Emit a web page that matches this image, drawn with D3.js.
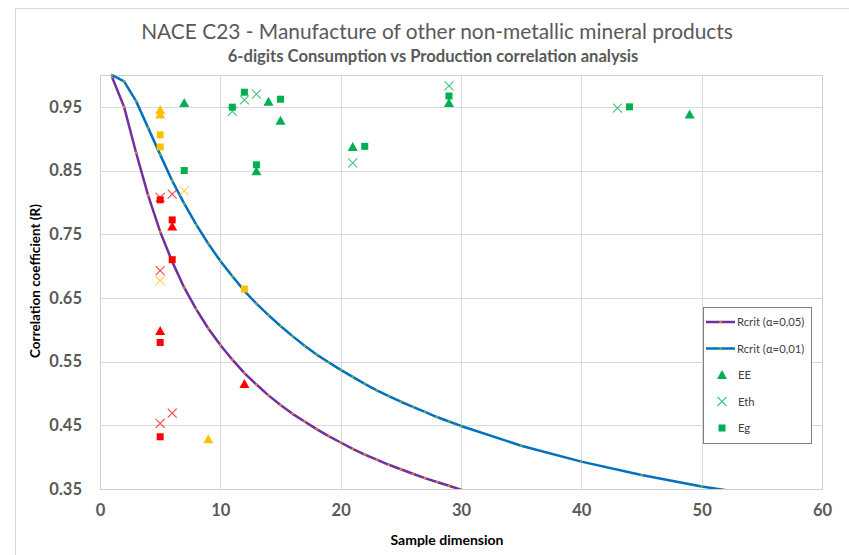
<!DOCTYPE html>
<html>
<head>
<meta charset="utf-8">
<script src="https://cdn.jsdelivr.net/npm/d3@7"></script>
<style>
  html, body { margin: 0; padding: 0; background: #fff; }
  svg { display: block; font-family: Lato, "Liberation Sans", sans-serif; }
</style>
</head>
<body>
<svg id="chart" width="849" height="555"></svg>
<script>
// Critical Pearson r values (two-tailed) by sample dimension
const critN   = [1,2,3,4,5,6,7,8,9,10,11,12,13,14,15,16,17,18,19,20,21,22,23,24,25,26,27,28,29,30,35,40,45,50,60];
const rcrit05 = [0.997,0.950,0.878,0.811,0.754,0.707,0.666,0.632,0.602,0.576,0.553,0.532,0.514,0.497,0.482,0.468,0.456,0.444,0.433,0.423,0.413,0.404,0.396,0.388,0.381,0.374,0.367,0.361,0.355,0.349,0.325,0.304,0.288,0.273,0.250];
const rcrit01 = [0.9999,0.990,0.959,0.917,0.875,0.834,0.798,0.765,0.735,0.708,0.684,0.661,0.641,0.623,0.606,0.590,0.575,0.561,0.549,0.537,0.526,0.515,0.505,0.496,0.487,0.479,0.471,0.463,0.456,0.449,0.418,0.393,0.372,0.354,0.325];

// Observed correlations; status: g = significant at 1%, y = borderline, r = not significant
const eeN      = [5, 5, 7, 6, 5, 12, 9, 14, 15, 13, 21, 29, 49];
const eeR      = [0.945, 0.938, 0.956, 0.762, 0.598, 0.515, 0.428, 0.958, 0.928, 0.849, 0.887, 0.956, 0.938];
const eeStatus = ["y","y","g","r","r","r","y","g","g","g","g","g","g"];

const ethN      = [5, 6, 7, 5, 5, 6, 5, 11, 12, 13, 21, 29, 43];
const ethR      = [0.808, 0.813, 0.818, 0.693, 0.677, 0.469, 0.453, 0.943, 0.961, 0.970, 0.862, 0.983, 0.948];
const ethStatus = ["r","r","y","r","y","r","r","g","g","g","g","g","g"];

const egN      = [5, 5, 7, 5, 6, 6, 12, 5, 5, 11, 12, 15, 13, 22, 29, 44];
const egR      = [0.906, 0.887, 0.850, 0.804, 0.7725, 0.710, 0.664, 0.580, 0.432, 0.9495, 0.973, 0.962, 0.859, 0.888, 0.967, 0.950];
const egStatus = ["y","y","g","r","r","r","y","r","r","g","g","g","g","g","g","g"];

const xTicks = [0, 10, 20, 30, 40, 50, 60];
const yTicks = [0.35, 0.45, 0.55, 0.65, 0.75, 0.85, 0.95];

const titleText    = "NACE C23 - Manufacture of other non-metallic mineral products";
const subtitleText = "6-digits Consumption vs Production correlation analysis";
const xTitle = "Sample dimension";
const yTitle = "Correlation coefficient (R)";
const legendLabels = ["Rcrit (α=0,05)", "Rcrit (α=0,01)", "EE", "Eth", "Eg"];

const svg = d3.select("#chart");
const plot = { left: 100, top: 75, right: 822, bottom: 489 };

const x = d3.scaleLinear().domain([0, 60]).range([plot.left, plot.right]);
const y = d3.scaleLinear().domain([0.35, 1.0]).range([plot.bottom, plot.top]);
const statusColor = d3.scaleOrdinal().domain(["g","y","r"]).range(["#00B050","#FFC000","#FF0000"]);

// outer chart frame
svg.append("path").attr("d", "M15.5,555 V8.5 H849").attr("fill", "none").attr("stroke", "#d9d9d9");

// titles
svg.append("text").attr("x", 437).attr("y", 39).attr("text-anchor", "middle")
  .attr("font-size", 20.9).attr("fill", "#595959").text(titleText);
svg.append("text").attr("x", 433).attr("y", 62).attr("text-anchor", "middle")
  .attr("font-size", 16.6).attr("font-weight", "bold").attr("fill", "#595959").text(subtitleText);

// gridlines
const grid = svg.append("g");
grid.selectAll(".gy").data(yTicks).join("line")
  .attr("x1", plot.left).attr("x2", plot.right)
  .attr("y1", d => Math.round(y(d)) + 0.5).attr("y2", d => Math.round(y(d)) + 0.5)
  .attr("stroke", "#d9d9d9");
grid.selectAll(".gx").data(xTicks).join("line")
  .attr("x1", d => Math.round(x(d)) + 0.5).attr("x2", d => Math.round(x(d)) + 0.5)
  .attr("y1", plot.top).attr("y2", plot.bottom)
  .attr("stroke", "#d9d9d9");
svg.append("rect").attr("x", plot.left + 0.5).attr("y", plot.top + 0.5)
  .attr("width", plot.right - plot.left).attr("height", plot.bottom - plot.top)
  .attr("fill", "none").attr("stroke", "#d0d0d0");

// axes (labels only, Excel-style)
const xAxis = svg.append("g").attr("transform", `translate(0,${plot.bottom})`)
  .call(d3.axisBottom(x).tickValues(xTicks).tickFormat(d3.format("d")).tickSize(0).tickPadding(15));
const yAxis = svg.append("g").attr("transform", `translate(${plot.left},0)`)
  .call(d3.axisLeft(y).tickValues(yTicks).tickFormat(d3.format(".2f")).tickSize(0).tickPadding(18));
[xAxis, yAxis].forEach(a => {
  a.select(".domain").remove();
  a.selectAll("text").attr("font-family", "Lato, sans-serif").attr("font-size", 16.5)
    .attr("font-weight", "bold").attr("fill", "#595959");
});

// axis titles
svg.append("text").attr("x", 447).attr("y", 545).attr("text-anchor", "middle")
  .attr("font-size", 14).attr("font-weight", "bold").attr("fill", "#000").text(xTitle);
svg.append("text").attr("transform", "translate(40,281) rotate(-90)").attr("text-anchor", "middle")
  .attr("font-size", 13.5).attr("font-weight", "bold").attr("fill", "#000").text(yTitle);

// clip for curves
svg.append("clipPath").attr("id", "plotClip").append("rect")
  .attr("x", plot.left).attr("y", plot.top - 3).attr("width", plot.right - plot.left).attr("height", plot.bottom - plot.top + 3);

const line = d3.line().x(d => x(d[0])).y(d => y(d[1]));
const curves = [
  { vals: rcrit05, color: "#7030A0", dot: "#ED7D31" },
  { vals: rcrit01, color: "#0070C0", dot: "#70AD47" }
];
const curveG = svg.append("g").attr("clip-path", "url(#plotClip)");
curves.forEach(c => {
  const pts = critN.map((n, i) => [n, c.vals[i]]);
  curveG.append("path").datum(pts).attr("d", line)
    .attr("fill", "none").attr("stroke", c.color).attr("stroke-width", 2.5).attr("stroke-linejoin", "round");
  curveG.selectAll(null).data(pts).join("circle")
    .attr("cx", d => x(d[0])).attr("cy", d => y(d[1])).attr("r", 1.3).attr("fill", c.dot);
});

// marker symbols
function triangle(g, cx, cy, color) {
  g.append("path").attr("d", `M${cx},${cy - 5} L${cx + 5},${cy + 4} L${cx - 5},${cy + 4} Z`).attr("fill", color);
}
function cross(g, cx, cy, color) {
  g.append("path").attr("d", `M${cx - 4.5},${cy - 4.5} L${cx + 4.5},${cy + 4.5} M${cx + 4.5},${cy - 4.5} L${cx - 4.5},${cy + 4.5}`)
    .attr("stroke", color).attr("stroke-width", 1.1).attr("fill", "none").attr("opacity", 0.75);
}
function square(g, cx, cy, color) {
  g.append("rect").attr("x", cx - 3.5).attr("y", cy - 3.5).attr("width", 7).attr("height", 7).attr("fill", color);
}

const pointsG = svg.append("g");
eeN.forEach((n, i) => triangle(pointsG, x(n), y(eeR[i]), statusColor(eeStatus[i])));
ethN.forEach((n, i) => cross(pointsG, x(n), y(ethR[i]), statusColor(ethStatus[i])));
egN.forEach((n, i) => square(pointsG, x(n), y(egR[i]), statusColor(egStatus[i])));

// legend
const lg = svg.append("g");
lg.append("rect").attr("x", 703.5).attr("y", 307.5).attr("width", 108).attr("height", 136)
  .attr("fill", "#fff").attr("stroke", "#7f7f7f");
const rowY = [322, 348.5, 375, 401.5, 428];
curves.forEach((c, i) => {
  lg.append("line").attr("x1", 706).attr("x2", 735).attr("y1", rowY[i]).attr("y2", rowY[i])
    .attr("stroke", c.color).attr("stroke-width", 2.5);
  lg.append("circle").attr("cx", 720.5).attr("cy", rowY[i]).attr("r", 1.3).attr("fill", c.dot);
});
triangle(lg, 722, rowY[2], "#00B050");
cross(lg, 722, rowY[3], "#00B050");
square(lg, 722, rowY[4], "#00B050");
lg.selectAll(".lt").data(legendLabels).join("text")
  .attr("x", (d, i) => i < 2 ? 737 : 738).attr("y", (d, i) => rowY[i] + 4)
  .attr("font-size", 11.3).attr("fill", "#404040").text(d => d);
</script>
</body>
</html>
